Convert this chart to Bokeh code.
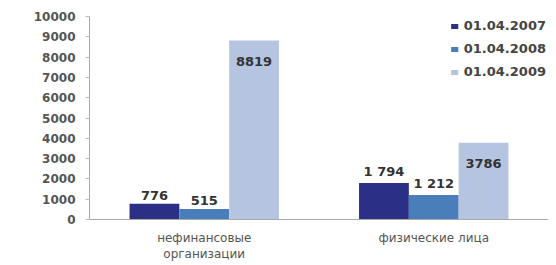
from bokeh.plotting import figure
from bokeh.models import ColumnDataSource, Legend, LegendItem, FactorRange
from bokeh.transform import dodge
from bokeh.core.properties import value
from bokeh.embed import file_html
from bokeh.resources import INLINE

categories = ["нефинансовые\nорганизации", "физические лица"]
series = ["01.04.2007", "01.04.2008", "01.04.2009"]
v2007 = [776, 1794]
v2008 = [515, 1212]
v2009 = [8819, 3786]
lab2007 = ["776", "1 794"]
lab2008 = ["515", "1 212"]
lab2009 = ["8819", "3786"]
colors = ["#2B2F86", "#4A7EBB", "#B5C4E0"]

src = ColumnDataSource(dict(cat=categories, v2007=v2007, v2008=v2008, v2009=v2009,
                            l2007=lab2007, l2008=lab2008, l2009=lab2009))

p = figure(x_range=FactorRange(*categories), y_range=(0, 10000), width=548, height=264,
           output_backend="svg", toolbar_location=None,
           min_border_left=89, min_border_right=0, min_border_top=16, min_border_bottom=43)
p.outline_line_color = None
p.grid.grid_line_color = None
p.background_fill_color = "white"
p.x_range.range_padding = 0

bw = 0.217
offs = [-0.217, 0.0, 0.217]
keys = ["v2007", "v2008", "v2009"]
lkeys = ["l2007", "l2008", "l2009"]
rs = []
for k, o, c in zip(keys, offs, colors):
    r = p.vbar(x=dodge("cat", o, range=p.x_range), top=k, width=bw, source=src,
               fill_color=c, line_color=None)
    rs.append(r)

font = value("DejaVu Sans")
for i, (k, lk, o) in enumerate(zip(keys, lkeys, offs)):
    inside = (i == 2)
    p.text(x=dodge("cat", o, range=p.x_range), y=k, text=lk, source=src,
           text_font=font, text_font_size="13px", text_font_style="bold",
           text_color="#333333", text_align="center",
           text_baseline="middle" if inside else "bottom",
           y_offset=21 if inside else -4)

p.yaxis.ticker = list(range(0, 10001, 1000))
p.yaxis.major_label_text_font = "DejaVu Sans"
p.yaxis.major_label_text_font_size = "12px"
p.yaxis.major_label_text_font_style = "bold"
p.yaxis.major_label_text_color = "#555555"
p.yaxis.axis_line_color = "#AAAAAA"
p.yaxis.major_tick_line_color = "#BBBBBB"
p.yaxis.major_tick_in = 0
p.yaxis.major_tick_out = 4
p.yaxis.minor_tick_line_color = None
p.yaxis.major_label_standoff = 10

p.xaxis.axis_line_color = "#AAAAAA"
p.xaxis.major_tick_line_color = None
p.xaxis.major_label_text_font = "DejaVu Sans"
p.xaxis.major_label_text_font_size = "12px"
p.xaxis.major_label_text_color = "#555555"
p.xaxis.major_label_standoff = 5

legend = Legend(items=[LegendItem(label=s, renderers=[r]) for s, r in zip(series, rs)],
                location="top_right")
legend.label_text_font = "DejaVu Sans"
legend.label_text_font_size = "13px"
legend.label_text_font_style = "bold"
legend.label_text_color = "#444444"
legend.glyph_width = 9
legend.glyph_height = 6
legend.label_height = 14
legend.spacing = 8
legend.border_line_color = None
legend.background_fill_alpha = 0
legend.padding = 0
legend.margin = 2
legend.label_standoff = 5
p.add_layout(legend)

open("out.html", "w").write(file_html(p, INLINE))
